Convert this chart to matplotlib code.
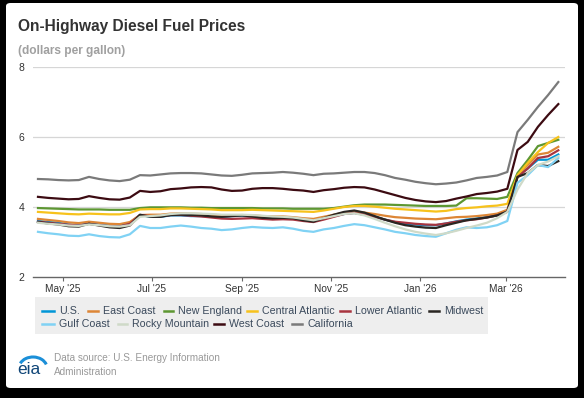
import numpy as np
import pandas as pd
import matplotlib
matplotlib.use("Agg")
import matplotlib.pyplot as plt
from matplotlib.patches import FancyBboxPatch, Rectangle, Arc
from matplotlib.lines import Line2D

plt.rcParams['font.family'] = ['Liberation Sans', 'DejaVu Sans']

# ---------------- data ----------------
start_date = "2025-04-14"
n_weeks = 52
dates = pd.date_range(start_date, periods=n_weeks, freq="7D")

series_names = ["U.S.", "East Coast", "New England", "Central Atlantic", "Lower Atlantic",
                "Midwest", "Gulf Coast", "Rocky Mountain", "West Coast", "California"]

us = [3.60, 3.57, 3.55, 3.50, 3.48, 3.54, 3.50, 3.47, 3.46, 3.55, 3.77, 3.72, 3.72, 3.76, 3.76, 3.74,
      3.74, 3.72, 3.72, 3.74, 3.75, 3.72, 3.68, 3.68, 3.70, 3.69, 3.62, 3.60, 3.68, 3.74, 3.80, 3.83,
      3.78, 3.72, 3.64, 3.57, 3.52, 3.50, 3.48, 3.48, 3.53, 3.59, 3.64, 3.67, 3.71, 3.76, 3.88,
      4.88, 5.10, 5.35, 5.35, 5.50]
east_coast = [3.66, 3.63, 3.60, 3.56, 3.54, 3.58, 3.55, 3.52, 3.51, 3.57, 3.77, 3.78, 3.78, 3.81, 3.82,
              3.81, 3.80, 3.78, 3.76, 3.76, 3.77, 3.76, 3.74, 3.73, 3.73, 3.71, 3.68, 3.66, 3.72, 3.78,
              3.84, 3.87, 3.84, 3.80, 3.75, 3.71, 3.69, 3.67, 3.66, 3.65, 3.68, 3.71, 3.72, 3.74, 3.77,
              3.81, 3.92, 4.90, 5.20, 5.50, 5.55, 5.72]
new_england = [3.97, 3.96, 3.95, 3.94, 3.93, 3.93, 3.93, 3.92, 3.92, 3.92, 3.97, 3.99, 3.99, 3.99, 3.99,
               3.98, 3.98, 3.97, 3.97, 3.97, 3.97, 3.97, 3.96, 3.96, 3.96, 3.95, 3.95, 3.95, 3.95, 3.97,
               4.01, 4.05, 4.07, 4.07, 4.07, 4.06, 4.05, 4.04, 4.03, 4.03, 4.03, 4.04, 4.25, 4.25, 4.24,
               4.23, 4.29, 4.97, 5.34, 5.74, 5.83, 5.92]
central_atlantic = [3.86, 3.84, 3.82, 3.80, 3.79, 3.81, 3.80, 3.79, 3.79, 3.83, 3.93, 3.94, 3.94, 3.96,
                    3.96, 3.95, 3.94, 3.93, 3.91, 3.91, 3.91, 3.92, 3.91, 3.90, 3.89, 3.88, 3.87, 3.86,
                    3.90, 3.95, 4.00, 4.03, 4.03, 4.01, 3.98, 3.95, 3.93, 3.91, 3.89, 3.87, 3.89, 3.94,
                    3.97, 3.99, 4.02, 4.04, 4.09, 4.91, 5.26, 5.57, 5.83, 6.00]
lower_atlantic = [3.58, 3.55, 3.52, 3.49, 3.47, 3.52, 3.48, 3.45, 3.44, 3.52, 3.77, 3.74, 3.73, 3.77,
                  3.77, 3.75, 3.73, 3.70, 3.67, 3.66, 3.67, 3.68, 3.66, 3.64, 3.65, 3.64, 3.60, 3.57,
                  3.64, 3.72, 3.80, 3.83, 3.78, 3.72, 3.64, 3.58, 3.55, 3.52, 3.50, 3.49, 3.53, 3.58,
                  3.62, 3.65, 3.70, 3.76, 3.86, 4.85, 5.10, 5.40, 5.45, 5.62]
midwest = [3.57, 3.53, 3.50, 3.45, 3.44, 3.52, 3.47, 3.42, 3.40, 3.47, 3.78, 3.72, 3.72, 3.77, 3.78, 3.77,
           3.76, 3.73, 3.72, 3.74, 3.76, 3.73, 3.69, 3.68, 3.69, 3.68, 3.62, 3.58, 3.68, 3.78, 3.86, 3.90,
           3.84, 3.74, 3.64, 3.55, 3.48, 3.44, 3.41, 3.40, 3.48, 3.55, 3.62, 3.66, 3.70, 3.76, 3.87,
           4.86, 4.97, 5.20, 5.17, 5.31]
gulf_coast = [3.29, 3.25, 3.22, 3.18, 3.17, 3.22, 3.17, 3.14, 3.13, 3.22, 3.46, 3.40, 3.40, 3.44, 3.47,
              3.44, 3.40, 3.38, 3.34, 3.36, 3.40, 3.43, 3.41, 3.40, 3.42, 3.38, 3.32, 3.29, 3.36, 3.40,
              3.46, 3.51, 3.48, 3.42, 3.36, 3.29, 3.25, 3.20, 3.17, 3.15, 3.25, 3.35, 3.42, 3.40, 3.42,
              3.48, 3.60, 4.69, 4.91, 5.20, 5.14, 5.40]
rocky_mountain = [3.55, 3.52, 3.50, 3.47, 3.46, 3.50, 3.48, 3.45, 3.44, 3.48, 3.72, 3.74, 3.76, 3.80,
                  3.82, 3.82, 3.81, 3.80, 3.78, 3.78, 3.78, 3.77, 3.75, 3.73, 3.72, 3.70, 3.66, 3.62,
                  3.68, 3.74, 3.80, 3.82, 3.76, 3.66, 3.55, 3.45, 3.36, 3.29, 3.24, 3.20, 3.25, 3.32,
                  3.40, 3.47, 3.55, 3.68, 3.86, 4.50, 4.97, 5.20, 5.30, 5.45]
west_coast = [4.29, 4.26, 4.24, 4.22, 4.23, 4.31, 4.26, 4.22, 4.21, 4.27, 4.46, 4.43, 4.45, 4.51, 4.53,
              4.56, 4.57, 4.56, 4.50, 4.46, 4.47, 4.52, 4.54, 4.54, 4.52, 4.49, 4.47, 4.43, 4.48, 4.51,
              4.55, 4.57, 4.56, 4.50, 4.42, 4.34, 4.26, 4.20, 4.16, 4.14, 4.17, 4.24, 4.30, 4.37, 4.40,
              4.44, 4.52, 5.63, 5.86, 6.29, 6.63, 6.94]
california = [4.80, 4.79, 4.77, 4.76, 4.77, 4.86, 4.80, 4.76, 4.74, 4.78, 4.91, 4.90, 4.93, 4.96, 4.97,
              4.97, 4.96, 4.93, 4.90, 4.89, 4.92, 4.96, 4.97, 4.98, 5.00, 4.98, 4.95, 4.91, 4.95, 4.96,
              4.98, 5.00, 5.00, 4.97, 4.91, 4.83, 4.78, 4.72, 4.68, 4.65, 4.67, 4.70, 4.76, 4.83, 4.86,
              4.90, 5.00, 6.14, 6.49, 6.86, 7.20, 7.57]

series_values = [us, east_coast, new_england, central_atlantic, lower_atlantic,
                 midwest, gulf_coast, rocky_mountain, west_coast, california]

x_tick_dates = ["2025-05-01", "2025-07-01", "2025-09-01", "2025-11-01", "2026-01-01", "2026-03-01"]
x_tick_labels = ["May '25", "Jul '25", "Sep '25", "Nov '25", "Jan '26", "Mar '26"]
y_ticks = [2, 4, 6, 8]

# ---------------- style ----------------
colors = ["#0096d7", "#dd8636", "#5d9732", "#f7c21c", "#a8343f",
          "#2a2622", "#80d2f4", "#cfdac8", "#3c0b12", "#7a7a7a"]

W, H = 584, 398
fig = plt.figure(figsize=(W / 100, H / 100), dpi=100)
fig.patch.set_facecolor("black")


def fx(px):
    return px / W


def fy(py):
    return 1 - py / H


card = FancyBboxPatch((fx(6), fy(388)), fx(578) - fx(6), fy(3) - fy(388),
                      boxstyle="round,pad=0,rounding_size=0.008",
                      transform=fig.transFigure, facecolor="white", edgecolor="none", zorder=-10)
fig.patches.append(card)

ax = fig.add_axes([fx(33), fy(277), fx(565) - fx(33), fy(67) - fy(277)])
ax.patch.set_alpha(0)

for name, vals, c in zip(series_names, series_values, colors):
    ax.plot(dates, vals, color=c, lw=1.6, solid_joinstyle="round", label=name)

ax.set_ylim(2, 8)
ax.set_xlim(pd.Timestamp("2025-04-10 14:00"), pd.Timestamp("2026-04-10 14:00"))
ax.set_yticks(y_ticks)
ax.set_yticklabels([str(v) for v in y_ticks])
ax.set_xticks(pd.to_datetime(x_tick_dates))
ax.set_xticklabels(x_tick_labels)

for s in ["top", "right", "left"]:
    ax.spines[s].set_visible(False)
ax.spines["bottom"].set_color("#666666")
ax.spines["bottom"].set_linewidth(1.0)
ax.tick_params(axis="y", length=0, pad=6, labelsize=7.5, labelcolor="#333333")
ax.tick_params(axis="x", length=3, width=0.8, color="#666666", pad=2, labelsize=7.3,
               labelcolor="#333333")
ax.yaxis.grid(True, color="#d6d6d6", lw=0.9)
ax.set_axisbelow(True)
for gl, v in zip(ax.yaxis.get_gridlines(), y_ticks):
    if v == 2:
        gl.set_visible(False)

# titles
fig.text(fx(18), fy(27), "On-Highway Diesel Fuel Prices", fontsize=11.2, fontweight="bold",
         color="#333333", ha="left", va="center")
fig.text(fx(18), fy(51), "(dollars per gallon)", fontsize=8.6, fontweight="bold",
         color="#a0a0a0", ha="left", va="center")

# legend (Highcharts-like flowing layout)
fig.patches.append(Rectangle((fx(35), fy(334)), fx(488) - fx(35), fy(297) - fy(334),
                             transform=fig.transFigure, facecolor="#eeeeee", edgecolor="none",
                             zorder=1))
legend_slots = [(42, 59, 311), (88, 103, 311), (164, 178, 311), (247, 262, 311),
                (340, 355, 311), (429, 444, 311),
                (42, 59, 324), (118, 132, 324), (214, 229, 324), (292, 307, 324)]
for (lx, tx, ly), name, c in zip(legend_slots, series_names, colors):
    fig.add_artist(Line2D([fx(lx), fx(tx - 5)], [fy(ly), fy(ly)], transform=fig.transFigure,
                          color=c, lw=1.8, zorder=2))
    fig.text(fx(tx), fy(ly), name, fontsize=7.7, color="#3b4a5c", ha="left", va="center",
             zorder=2)

# footer
fig.text(fx(54), fy(358), "Data source: U.S. Energy Information", fontsize=7.2, color="#999999",
         ha="left", va="center")
fig.text(fx(54), fy(372), "Administration", fontsize=7.2, color="#999999", ha="left",
         va="center")
# eia logo
fig.text(fx(17), fy(370), "eia", fontsize=12.5, color="#0f4577", ha="left", va="center")
logo_ax = fig.add_axes([fx(14), fy(380), fx(48) - fx(14), fy(348) - fy(380)])
logo_ax.set_xlim(0, 34)
logo_ax.set_ylim(32, 0)
logo_ax.axis("off")
logo_ax.add_patch(Arc((19, 20), 28, 22, theta1=200, theta2=345, color="#1b8fd8", lw=2.2))

fig.savefig("out.png", dpi=100, facecolor=fig.get_facecolor())
